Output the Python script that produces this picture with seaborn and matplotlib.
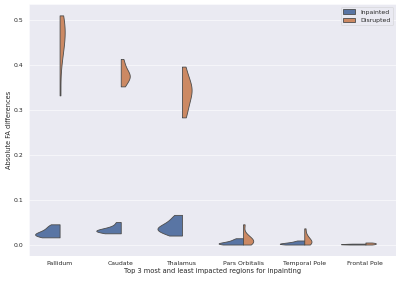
import pandas as pd
import seaborn as sns
import matplotlib.pyplot as plt

regions = ["Pallidum", "Caudate", "Thalamus", "Pars Orbitalis", "Temporal Pole", "Frontal Pole"]
groups = ["Inpainted", "Disrupted"]

# per-subject absolute FA differences
pallidum_inpainted = [0.016, 0.018, 0.020, 0.022, 0.024, 0.026, 0.030, 0.035, 0.040, 0.045]
pallidum_disrupted = [0.332, 0.410, 0.430, 0.450, 0.460, 0.470, 0.480, 0.490, 0.500, 0.510]
caudate_inpainted = [0.025, 0.027, 0.029, 0.030, 0.031, 0.032, 0.034, 0.037, 0.042, 0.050]
caudate_disrupted = [0.352, 0.360, 0.368, 0.372, 0.375, 0.378, 0.382, 0.390, 0.400, 0.413]
thalamus_inpainted = [0.020, 0.025, 0.030, 0.032, 0.035, 0.037, 0.040, 0.045, 0.050, 0.058, 0.066]
thalamus_disrupted = [0.283, 0.300, 0.315, 0.330, 0.340, 0.345, 0.350, 0.360, 0.375, 0.396]
pars_inpainted = [0.000, 0.0005, 0.001, 0.002, 0.003, 0.004, 0.006, 0.008, 0.011, 0.014]
pars_disrupted = [0.000, 0.002, 0.004, 0.006, 0.008, 0.010, 0.013, 0.017, 0.022, 0.045]
temporal_inpainted = [0.000, 0.0005, 0.001, 0.0015, 0.002, 0.003, 0.004, 0.005, 0.007, 0.009]
temporal_disrupted = [0.000, 0.002, 0.003, 0.005, 0.007, 0.009, 0.012, 0.016, 0.022, 0.036]
frontal_inpainted = [0.000, 0.0002, 0.0004, 0.0006, 0.0008, 0.001, 0.0012, 0.0015, 0.0018, 0.002]
frontal_disrupted = [0.000, 0.0005, 0.001, 0.0015, 0.002, 0.0025, 0.003, 0.0035, 0.004, 0.0045]

values = {
    "Pallidum": (pallidum_inpainted, pallidum_disrupted),
    "Caudate": (caudate_inpainted, caudate_disrupted),
    "Thalamus": (thalamus_inpainted, thalamus_disrupted),
    "Pars Orbitalis": (pars_inpainted, pars_disrupted),
    "Temporal Pole": (temporal_inpainted, temporal_disrupted),
    "Frontal Pole": (frontal_inpainted, frontal_disrupted),
}

rows = []
for region in regions:
    for group, vals in zip(groups, values[region]):
        for v in vals:
            rows.append({"Region": region, "Group": group, "FA": v})
df = pd.DataFrame(rows)

sns.set_theme(style="darkgrid")

fig, ax = plt.subplots(figsize=(10, 7.025), dpi=40)

# one call per region so the two halves are scaled against each other only
for i, region in enumerate(regions):
    sns.violinplot(data=df[df["Region"] == region], x="Region", y="FA", hue="Group",
                   order=regions, hue_order=groups, split=True, inner=None, cut=0,
                   density_norm="area", common_norm=True, linewidth=1.5,
                   ax=ax, legend=(i == 0))

sns.move_legend(ax, "upper right", title=None, fontsize=11)
ax.set_xlabel("Top 3 most and least impacted regions for inpainting")
ax.set_ylabel("Absolute FA differences")
ax.tick_params(labelsize=11)

plt.subplots_adjust(left=0.0725, right=0.99, top=0.986, bottom=0.089)
plt.savefig("out.png", dpi=40)
